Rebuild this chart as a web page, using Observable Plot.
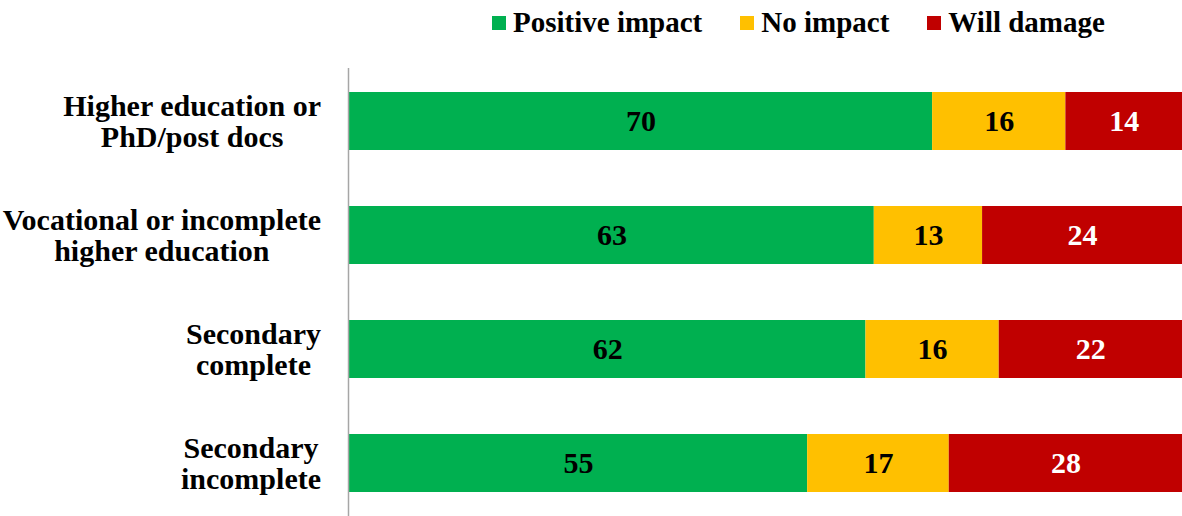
<!DOCTYPE html>
<html>
<head>
<meta charset="utf-8">
<script src="https://cdn.jsdelivr.net/npm/d3@7"></script>
<script src="https://cdn.jsdelivr.net/npm/@observablehq/plot@0.6"></script>
<style>
  body { margin: 0; background: #fff; font-family: "Liberation Serif", "Times New Roman", serif; }
  #legend { height: 45px; display: flex; align-items: center; padding-left: 492px; box-sizing: border-box; font-weight: bold; font-size: 29px; color: #000; }
  .item { display: flex; align-items: center; margin-right: 38px; }
  .sw { width: 14px; height: 14px; margin-right: 7px; }
</style>
</head>
<body>
<div id="legend"></div>
<div id="chart"></div>
<script>
const categories = ["Higher education or\nPhD/post docs", "Vocational or incomplete\nhigher education", "Secondary\ncomplete", "Secondary\nincomplete"];
const seriesNames = ["Positive impact", "No impact", "Will damage"];
const colors = ["#00B050", "#FFC000", "#C00000"];
const positive = [70, 63, 62, 55];
const noImpact = [16, 13, 16, 17];
const willDamage = [14, 24, 22, 28];

const seriesValues = [positive, noImpact, willDamage];
const data = [];
categories.forEach((c, i) => {
  seriesNames.forEach((s, j) => data.push({cat: c, series: s, value: seriesValues[j][i]}));
});

// legend
const legend = document.getElementById("legend");
seriesNames.forEach((s, j) => {
  const it = document.createElement("div");
  it.className = "item";
  const sw = document.createElement("div");
  sw.className = "sw";
  sw.style.background = colors[j];
  const tx = document.createElement("span");
  tx.textContent = s;
  it.appendChild(sw); it.appendChild(tx);
  legend.appendChild(it);
});

const FONT = '"Liberation Serif", "Times New Roman", serif';
const stackOpts = {x: "value", y: "cat", z: "series", order: null};
const chart = Plot.plot({
  width: 1182,
  height: 471,
  marginLeft: 349,
  marginRight: 0,
  marginTop: 23,
  marginBottom: 0,
  style: {fontFamily: FONT, fontSize: "30px", background: "#fff"},
  x: {domain: [0, 100], axis: null},
  y: {domain: categories, paddingInner: 0.489, paddingOuter: 0.2, label: null},
  color: {domain: seriesNames, range: colors},
  marks: [
    Plot.barX(data, Plot.stackX({...stackOpts, fill: "series"})),
    Plot.text(data, Plot.stackX({...stackOpts, text: d => d.series === "Will damage" ? "" : String(d.value), fill: "black", fontSize: 30, fontWeight: "bold", fontFamily: FONT})),
    Plot.text(data, Plot.stackX({...stackOpts, text: d => d.series === "Will damage" ? String(d.value) : "", fill: "white", fontSize: 30, fontWeight: "bold", fontFamily: FONT})),
    Plot.ruleX([0], {stroke: "#A6A6A6", strokeWidth: 1.5, dx: -1}),
    Plot.axisY({tickSize: 0, textAnchor: "middle", fontSize: 30, fontWeight: "bold", fontFamily: FONT, lineHeight: 1.02, fill: "black"})
  ]
});
document.getElementById("chart").appendChild(chart);

// right-align each multi-line label block near the axis, lines centered within the block
const svgLeft = chart.getBoundingClientRect().left;
d3.select(chart).selectAll('g[aria-label="y-axis tick label"] text').each(function() {
  const tr = this.getAttribute("transform") || "";
  const m = tr.match(/translate\(([-\d.]+),\s*([-\d.]+)\)/);
  const x0 = m ? +m[1] : 0;
  const y = m ? m[2] : 0;
  const r = this.getBoundingClientRect();
  const right = r.right - svgLeft;
  this.setAttribute("transform", `translate(${x0 + (321 - right)},${y})`);
});
</script>
</body>
</html>
